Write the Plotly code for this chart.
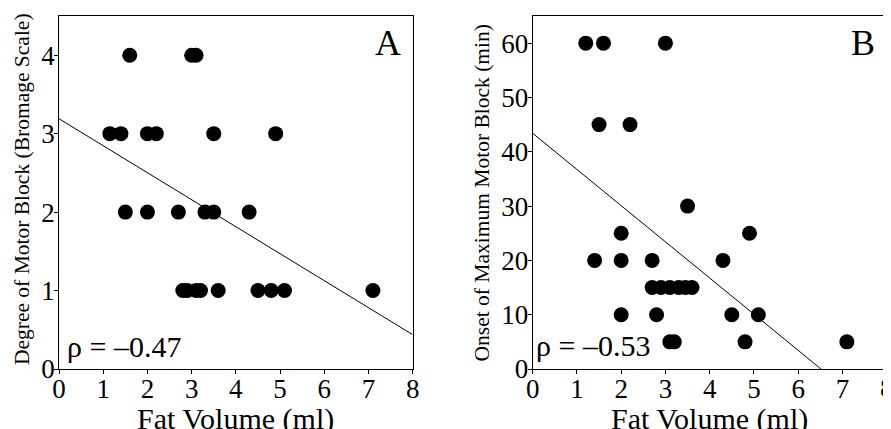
import plotly.graph_objects as go

# Panel A: degree of motor block vs fat volume
a_fat = [1.6, 3.0, 3.1,
         1.15, 1.4, 2.0, 2.2, 3.5, 4.9,
         1.5, 2.0, 2.7, 3.3, 3.5, 4.3,
         2.8, 2.9, 3.1, 3.2, 3.6, 4.5, 4.8, 5.1, 7.1]
a_block = [4, 4, 4,
           3, 3, 3, 3, 3, 3,
           2, 2, 2, 2, 2, 2,
           1, 1, 1, 1, 1, 1, 1, 1, 1]
a_fit = [3.19, -0.344]  # intercept, slope
a_rho = "ρ = –0.47"

# Panel B: onset of maximum motor block vs fat volume
b_fat = [1.2, 1.6, 3.0,
         1.5, 2.2,
         3.5,
         2.0, 4.9,
         1.4, 2.0, 2.7, 4.3,
         2.7, 2.9, 3.1, 3.3, 3.45, 3.6,
         2.0, 2.8, 4.5, 5.1,
         3.1, 3.2, 4.8, 7.1]
b_onset = [60, 60, 60,
           45, 45,
           30,
           25, 25,
           20, 20, 20, 20,
           15, 15, 15, 15, 15, 15,
           10, 10, 10, 10,
           5, 5, 5, 5]
b_fit = [43.4, -6.66]
b_rho = "ρ = –0.53"

fit_x = [0, 8]
x_ticks = [0, 1, 2, 3, 4, 5, 6, 7, 8]
a_yticks = [0, 1, 2, 3, 4]
b_yticks = [0, 10, 20, 30, 40, 50, 60]

FONT = "Liberation Serif"
fig = go.Figure()

marker = dict(color="black", size=15, line=dict(width=0))
fig.add_trace(go.Scatter(x=a_fat, y=a_block, mode="markers", marker=marker,
                         xaxis="x", yaxis="y", showlegend=False))
fig.add_trace(go.Scatter(x=fit_x, y=[a_fit[0] + a_fit[1] * v for v in fit_x],
                         mode="lines", line=dict(color="black", width=1),
                         xaxis="x", yaxis="y", showlegend=False))
fig.add_trace(go.Scatter(x=b_fat, y=b_onset, mode="markers", marker=marker,
                         xaxis="x2", yaxis="y2", showlegend=False))
fig.add_trace(go.Scatter(x=fit_x, y=[b_fit[0] + b_fit[1] * v for v in fit_x],
                         mode="lines", line=dict(color="black", width=1),
                         xaxis="x2", yaxis="y2", showlegend=False))

ax_common = dict(showgrid=False, zeroline=False, showline=True, linecolor="black",
                 linewidth=1, mirror=True, ticks="outside", ticklen=4,
                 tickcolor="black", automargin=False,
                 tickfont=dict(family=FONT, size=27, color="black"))

title_font = dict(family=FONT, size=30, color="black")
ytitle_font = dict(family=FONT, size=21.5, color="black")
tick_font = dict(family=FONT, size=27, color="black")

fig.update_layout(
    width=883, height=421,
    margin=dict(l=0, r=0, t=0, b=0),
    paper_bgcolor="white", plot_bgcolor="white",
    xaxis=dict(domain=[0.0578, 0.4583], range=[0, 8], tickvals=x_ticks,
               anchor="y", ticklabelstandoff=-8, **ax_common),
    yaxis=dict(domain=[0.1425, 0.981], range=[0, 4.5], tickvals=a_yticks,
               anchor="x", ticklabelstandoff=-6, **ax_common),
    xaxis2=dict(domain=[0.5942, 0.9951], range=[0, 8], tickvals=x_ticks,
                anchor="y2", ticklabelstandoff=-8, **ax_common),
    yaxis2=dict(domain=[0.1425, 0.981], range=[0, 65], tickvals=b_yticks,
                anchor="x2", ticklabelstandoff=-6, **ax_common),
    annotations=[
        dict(text="Fat Volume (ml)", xref="paper", yref="paper", x=0.2582, y=0.07,
             xanchor="center", yanchor="top", showarrow=False, font=title_font),
        dict(text="Fat Volume (ml)", xref="paper", yref="paper", x=0.7947, y=0.07,
             xanchor="center", yanchor="top", showarrow=False, font=title_font),
        dict(text="Degree of Motor Block (Bromage Scale)", xref="paper", yref="paper",
             x=0.0159, y=0.57, xanchor="center", yanchor="middle", textangle=-90,
             showarrow=False, font=ytitle_font),
        dict(text="Onset of Maximum Motor Block (min)", xref="paper", yref="paper",
             x=0.5379, y=0.5618, xanchor="center", yanchor="middle", textangle=-90,
             showarrow=False, font=ytitle_font),
        dict(text=str(x_ticks[-1]), xref="x2", yref="paper", x=x_ticks[-1], y=0.0974,
             xanchor="center", yanchor="middle", showarrow=False, font=tick_font),
        dict(text="A", xref="paper", yref="paper", x=0.4304, y=0.9169,
             xanchor="center", yanchor="middle", showarrow=False,
             font=dict(family=FONT, size=36, color="black")),
        dict(text="B", xref="paper", yref="paper", x=0.9683, y=0.9169,
             xanchor="center", yanchor="middle", showarrow=False,
             font=dict(family=FONT, size=36, color="black")),
        dict(text=a_rho, xref="paper", yref="paper", x=0.0646, y=0.1948,
             xanchor="left", yanchor="middle", showarrow=False, font=title_font),
        dict(text=b_rho, xref="paper", yref="paper", x=0.5957, y=0.1995,
             xanchor="left", yanchor="middle", showarrow=False, font=title_font),
    ],
)

fig.write_html("out.html")
